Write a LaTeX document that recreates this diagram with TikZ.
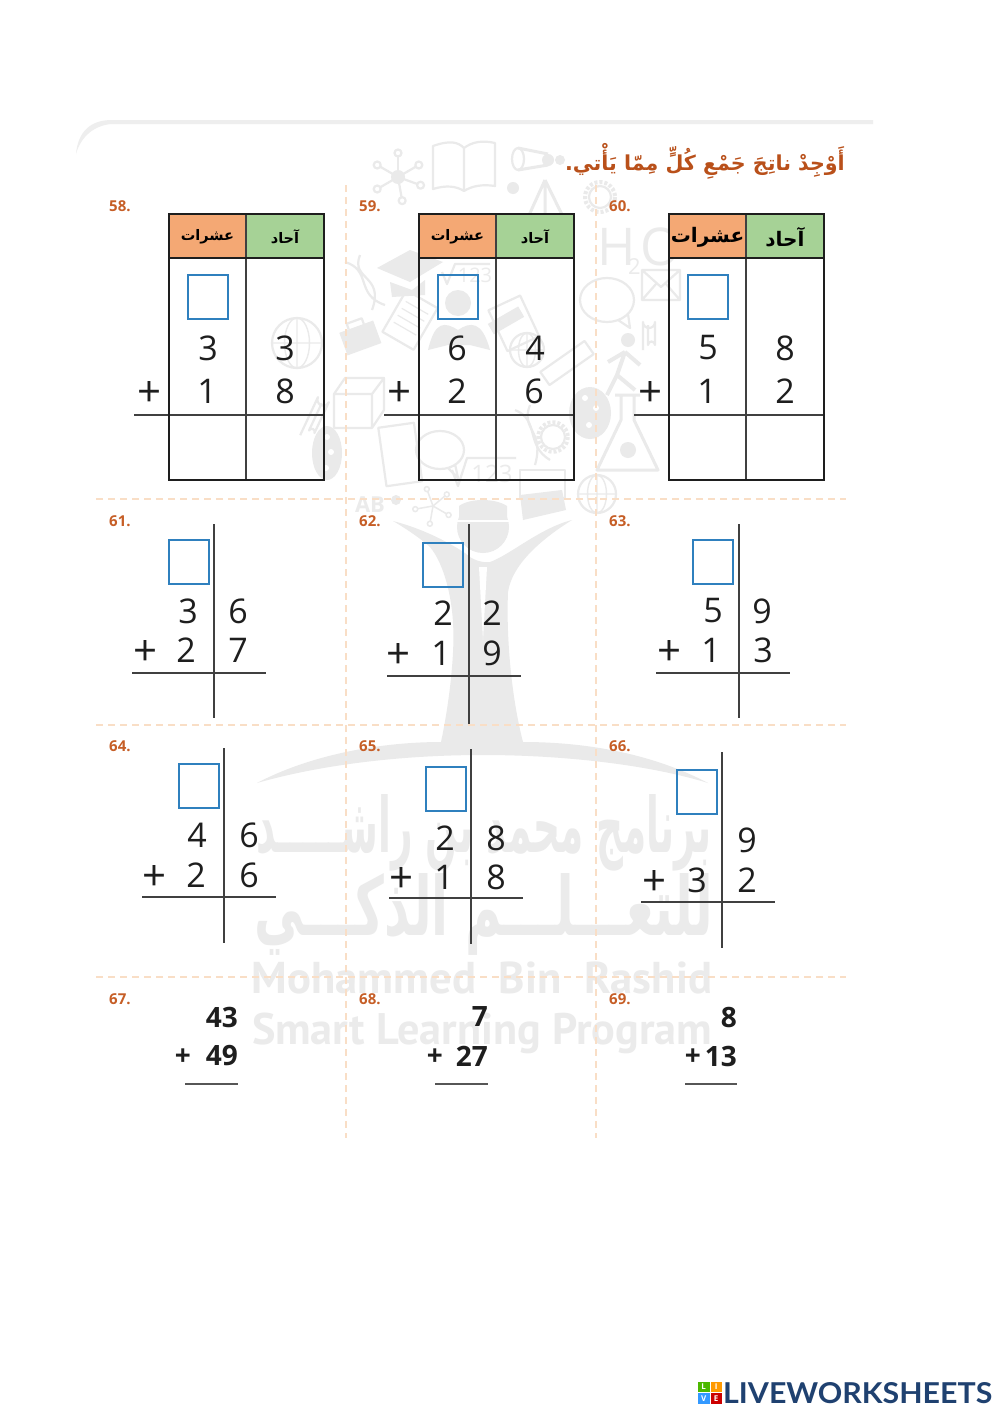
\documentclass[tikz,border=0pt]{standalone}
\usepackage{fontspec}
\usepackage{graphicx}
\setmainfont{Open Sans}
\newfontfamily\arfont[Script=Arabic]{DejaVu Sans}
\newfontfamily\latofont{Lato}
\newfontfamily\wmfont{PT Sans}
\TeXXeTstate=1
\usetikzlibrary{shapes.geometric}
\definecolor{wm}{HTML}{EAEAEA}
\definecolor{wmtext}{HTML}{EBEBEB}
\definecolor{dashc}{HTML}{F9DEC6}
\definecolor{numc}{HTML}{C65E26}
\definecolor{headc}{HTML}{B9501A}
\definecolor{orhead}{HTML}{F4A874}
\definecolor{grhead}{HTML}{A6D296}
\definecolor{boxc}{HTML}{2F80BE}
\definecolor{inkc}{HTML}{1E1E1E}
\definecolor{navy}{HTML}{1F4170}
\newcounter{nn}
\tikzset{
  x=1pt,y=-1pt,
  dig/.style={inner sep=0pt,text=inkc,font=\fontsize{34}{34}\selectfont},
  plusdig/.style={inner sep=0pt,text=inkc,font=\fontsize{42}{42}\selectfont},
  bolddig/.style={inner sep=0pt,anchor=east,text=inkc,font=\fontsize{28}{28}\selectfont\bfseries},
  numlab/.style={inner sep=0pt,anchor=west,text=numc,font=\fontsize{15}{15}\selectfont\bfseries},
  thick line/.style={draw=inkc,line width=2.8pt},
  thin line/.style={draw=inkc!85,line width=1.6pt},
  answerbox/.style={draw=boxc,line width=2pt,fill=none},
  wmline/.style={draw=wm,line width=2.2pt,line join=round,fill=none},
  fold/.style={draw=dashc,line width=1.3pt,dash pattern=on 7pt off 5pt},
}
\newcommand{\dgt}[3]{\stepcounter{nn}\node[dig] (n\thenn) at (#1,#2) {#3};}
\newcommand{\pls}[2]{\stepcounter{nn}\node[plusdig] (n\thenn) at (#1,#2+3) {+};}
\newcommand{\blab}[3]{\stepcounter{nn}\node[numlab] (n\thenn) at (#1,#2) {#3};}
\newcommand{\bdgt}[3]{\stepcounter{nn}\node[bolddig] (n\thenn) at (#1,#2) {#3};}
\newcommand{\sqbox}[2]{\draw[answerbox] (#1,#2) rectangle ++(40,44);}
\newcommand{\ctable}[2]{%
  \fill[orhead] (#1,214) rectangle ++(77,44);
  \fill[grhead] (#1+77,214) rectangle ++(78,44);
  \draw[thin line] (#1+77,214) -- (#1+77,480);
  \draw[thin line] (#1+77-112,415) -- (#1+155,415);
  \draw[thick line] (#1,258) -- (#1+155,258);
  \draw[thick line] (#1,214) rectangle (#1+155,480);
  \stepcounter{nn}\node[inner sep=0pt,text=black,font=\arfont\fontsize{#2}{#2}\selectfont\bfseries] (n\thenn) at (#1+38.5,237) {\beginR عشرات\endR};
  \stepcounter{nn}\node[inner sep=0pt,text=black,font=\arfont\fontsize{#2}{#2}\selectfont\bfseries] (n\thenn) at (#1+116,237) {\beginR آحاد\endR};
}
\newcommand{\vprob}[5]{%
  \draw[thin line] (#1,#2) -- (#1,#3);
  \draw[thin line] (#4,#5) -- (#4+134,#5);
}
\begin{document}
\begin{tikzpicture}
\useasboundingbox (0,0) rectangle (1000,1413);
\fill[white] (0,0) rectangle (1000,1413);

% ---------- top tab
\fill[wm!80] (873,120) -- (112,120) .. controls (90,120) and (78,132) .. (76,154) .. controls (81,136) and (95,125) .. (112,124) -- (873,124) -- cycle;

% ---------- watermark doodles
\draw[wmline] (433,146) .. controls (450,140) and (458,142) .. (464,148) .. controls (472,142) and (482,140) .. (495,143) -- (495,186) .. controls (482,184) and (472,186) .. (464,191) .. controls (456,186) and (446,185) .. (433,189) -- cycle (464,148) -- (464,191);
\foreach \a in {20,80,150,210,270,330}{\draw[wmline] (398,177) -- ++(\a:21); \draw[wmline] (398,177) ++(\a:24) circle (3.5);}
\fill[wm] (398,177) circle (7);
\draw[wmline,line width=3pt] (518,148) -- (548,154) (518,170) -- (548,165);
\draw[wmline] (518,159) ellipse (6 and 11);
\fill[wm] (548,160) circle (6);\fill[wm] (560,160) circle (5);
\draw[wmline,line width=3pt] (545,180) -- (520,235) (545,180) -- (572,235) (545,180) -- (545,215);
\fill[wm] (513,188) circle (6);
\draw[wmline,dash pattern=on 3pt off 2pt,line width=4pt] (600,197) circle (15);
\draw[wmline] (600,197) circle (11);
\node[inner sep=0pt,text=wmtext,anchor=west,font=\fontsize{52}{52}\selectfont] (h) at (597,247) {H};
\node[inner sep=0pt,text=wmtext,anchor=west,font=\fontsize{22}{22}\selectfont] (two) at (628,267) {2};
\node[inner sep=0pt,text=wmtext,anchor=west,font=\fontsize{52}{52}\selectfont] (o) at (640,247) {O};
\draw[wmline] (642,270) rectangle (680,300) (642,270) -- (661,287) -- (680,270) (642,300) -- (656,284) (680,300) -- (666,284);
\draw[wmline] (607,300) ellipse (27 and 22) (618,320) -- (630,328) -- (628,314);
\draw[wmline] (440,450) ellipse (24 and 19) (448,468) -- (458,478) -- (455,464);
\draw[wmline] (643,350) -- (643,322) arc (180:0:6) -- (655,345) arc (0:-180:3.5) -- (648,325);
\fill[wm] (377,268) -- (410,250) -- (443,262) -- (410,282) -- cycle;
\fill[wm] (390,282) -- (412,290) -- (425,280) -- (425,295) -- (392,297) -- cycle;
\fill[wm] (500,224) -- (522,230) -- (510,258) -- cycle;
\fill[wm] (496,215) -- (525,214) -- (545,250) -- (522,258) -- cycle;
\node[inner sep=0pt,text=wmtext,font=\fontsize{20}{20}\selectfont] (roota) at (475,275) {123};
\draw[wmline] (442,272) -- (447,284) -- (455,264) -- (490,264);
\fill[wm] (458,303) circle (13);
\fill[wm] (428,350) .. controls (435,320) and (445,322) .. (458,330) .. controls (470,322) and (482,320) .. (490,350) -- (470,345) -- (448,345) -- cycle;
\foreach \cx/\cy/\r in {527/350/17,297/343/25,597/494/19}{
  \draw[wmline] (\cx,\cy) circle (\r);
  \draw[wmline,line width=1.4pt] (\cx-\r,\cy) -- (\cx+\r,\cy) (\cx,\cy-\r) -- (\cx,\cy+\r) (\cx,\cy) ellipse ({\r/2} and \r);
}
\draw[wmline] (345,262) .. controls (372,270) and (355,295) .. (385,305) (360,255) .. controls (350,280) and (385,275) .. (372,310);
\draw[wmline,rotate around={-30:(410,320)}] (392,296) rectangle (428,344);
\foreach \k in {0,1,2,3}{\draw[wmline,line width=1.2pt,rotate around={-30:(410,320)}] (397,306+8*\k) -- (423,306+8*\k);}
\fill[wm,rotate around={20:(360,337)}] (342,326) rectangle (378,350);
\draw[wmline,rotate around={20:(360,337)}] (352,326) -- (352,320) -- (368,320) -- (368,326);
\draw[wmline,rotate around={25:(515,320)}] (495,300) rectangle (530,345);
\fill[wm,rotate around={30:(500,325)}] (490,318) rectangle (525,330);
\draw[wmline] (334,394) -- (372,394) -- (372,428) -- (334,428) -- cycle (334,394) -- (345,378) -- (384,378) -- (372,394) (384,378) -- (384,410) -- (372,428);
\fill[wm] (327,453) ellipse (15 and 27);
\fill[white] (327,437) circle (3);\fill[white] (331,452) circle (3);\fill[white] (326,468) circle (3);
\fill[wm] (590,413) ellipse (21 and 26);
\fill[white] (585,398) circle (3);\fill[white] (596,408) circle (3);\fill[white] (589,425) circle (3);
\draw[wmline,rotate around={8:(400,453)}] (382,425) rectangle (418,484);
\node[inner sep=0pt,text=wmtext,font=\fontsize{24}{24}\selectfont] (rootb) at (492,474) {123};
\draw[wmline] (452,470) -- (458,486) -- (467,458) -- (516,458);
\draw[wmline] (553,437) circle (12);
\draw[wmline,dash pattern=on 3pt off 2pt,line width=3.5pt] (553,437) circle (15);
\draw[wmline,line width=3pt] (615,395) -- (640,395) (621,395) -- (621,420) -- (597,470) -- (658,470) -- (634,420) -- (634,395);
\fill[wm] (628,450) circle (8);
\fill[wm] (628,340) circle (7);
\draw[wmline,line width=4pt] (625,352) -- (617,375) -- (607,395) (617,375) -- (635,390) (625,352) -- (640,365) (625,352) -- (608,362);
\draw[wmline,rotate around={35:(567,363)}] (540,355) rectangle (594,371);
\draw[wmline,rotate around={-25:(315,420)}] (308,440) -- (308,398) arc (180:0:6) -- (320,432) arc (0:-180:3) -- (314,402);
\draw[wmline] (515,410) .. controls (540,420) and (525,445) .. (550,460);
\draw[wmline] (530,405) .. controls (520,430) and (545,430) .. (535,465);
\draw[wmline] (520,470) rectangle (565,498);
\fill[wm] (396,500) circle (5);
\foreach \a in {30,100,170,250,320}{\draw[wmline,line width=1.5pt] (433,506) -- ++(\a:16); \draw[wmline,line width=1.5pt] (433,506) ++(\a:18) circle (2.5);}
\fill[wm] (520,495) -- (562,490) -- (566,510) -- (523,520) -- cycle;
\node[inner sep=0pt,text=wmtext,font=\fontsize{22}{22}\selectfont\bfseries] (ab) at (370,505) {AB};

% ---------- tree
\fill[wm] (483,527) circle (26);
\fill[wm] (459,506) .. controls (470,498) and (495,498) .. (507,506) -- (507,518) -- (459,518) -- cycle;
\fill[white] (456,520) rectangle (510,522);
\fill[wm] (393,521) .. controls (420,528) and (445,540) .. (465,553) .. controls (472,560) and (482,563) .. (490,562)
  .. controls (510,555) and (540,528) .. (572,520)
  .. controls (540,540) and (512,565) .. (508,592)
  .. controls (506,640) and (512,700) .. (523,742)
  .. controls (590,742) and (655,755) .. (708,783) .. controls (650,765) and (565,755) .. (483,755)
  .. controls (400,755) and (320,765) .. (257,783) .. controls (310,755) and (380,742) .. (441,742)
  .. controls (450,700) and (455,650) .. (453,623) .. controls (452,600) and (445,565) .. (430,547)
  .. controls (420,538) and (405,528) .. (393,521) -- cycle;
\fill[white] (479,567) -- (487,567) -- (483,640) -- cycle;

% ---------- watermark text
\node[inner sep=0pt,text=wmtext] (wa) at (484,833) {\resizebox{456pt}{58pt}{\arfont\bfseries\beginR برنامج محمد بن راشـــــد\endR}};
\node[inner sep=0pt,text=wmtext] (wb) at (484,914) {\resizebox{458pt}{62pt}{\arfont\bfseries\beginR للتعـــلـــم الذكـــي\endR}};
\node[inner sep=0pt,text=wmtext] (wc) at (482,978) {\resizebox{460pt}{!}{\wmfont\fontsize{40}{40}\selectfont\bfseries Mohammed\ \ Bin\ \ Rashid}};
\node[inner sep=0pt,text=wmtext] (wd) at (482,1033) {\resizebox{460pt}{!}{\wmfont\fontsize{40}{40}\selectfont\bfseries Smart Learning Program}};

% ---------- fold lines
\foreach \yy in {499,725,977}{\draw[fold] (96,\yy) -- (846,\yy);}
\foreach \xx in {346,596}{\draw[fold] (\xx,185) -- (\xx,1138);}

% ---------- heading
\node[inner sep=0pt,anchor=east,text=headc,font=\arfont\fontsize{20.6}{20.6}\selectfont\bfseries] (title) at (845,161) {\beginR أَوْجِدْ ناتِجَ جَمْعِ كُلٍّ مِمّا يَأْتي.\endR};

% ---------- tables
\blab{109}{206}{58.}\blab{359}{206}{59.}\blab{609}{206}{60.}
\ctable{169}{14.5}
\ctable{419}{14.5}
\ctable{669}{20}
\sqbox{188}{275}\sqbox{438}{275}\sqbox{688}{275}
\dgt{208}{348}{3}\dgt{285}{348}{3}\pls{150}{391}\dgt{207}{391}{1}\dgt{285}{391}{8}
\dgt{457}{348}{6}\dgt{535}{348}{4}\pls{400}{391}\dgt{457}{391}{2}\dgt{534}{391}{6}
\dgt{708}{348}{5}\dgt{785}{348}{8}\pls{650}{391}\dgt{707}{391}{1}\dgt{785}{391}{2}

% ---------- vertical problems
\blab{109}{521}{61.}\blab{359}{521}{62.}\blab{609}{521}{63.}
\vprob{214}{524}{718}{132}{673}
\sqbox{169}{540}
\dgt{188}{611}{3}\dgt{238}{611}{6}\pls{146}{650}\dgt{186}{650}{2}\dgt{238}{650}{7}
\vprob{469}{524}{724}{387}{676}
\sqbox{423}{543}
\dgt{443}{613}{2}\dgt{492}{613}{2}\pls{399}{653}\dgt{441}{653}{1}\dgt{492}{653}{9}
\vprob{739}{524}{718}{656}{673}
\sqbox{693}{540}
\dgt{713}{611}{5}\dgt{762}{611}{9}\pls{669}{650}\dgt{711}{650}{1}\dgt{763}{650}{3}

\blab{109}{746}{64.}\blab{359}{746}{65.}\blab{609}{746}{66.}
\vprob{224}{748}{943}{142}{897}
\sqbox{179}{764}
\dgt{197}{835}{4}\dgt{249}{835}{6}\pls{155}{875}\dgt{196}{875}{2}\dgt{249}{875}{6}
\vprob{471}{749}{944}{389}{898}
\sqbox{426}{767}
\dgt{445}{838}{2}\dgt{496}{838}{8}\pls{402}{877}\dgt{444}{877}{1}\dgt{496}{877}{8}
\vprob{722}{752}{948}{641}{902}
\sqbox{677}{770}
\dgt{747}{840}{9}\pls{654}{880}\dgt{697}{880}{3}\dgt{747}{880}{2}

% ---------- plain problems
\blab{109}{999}{67.}\blab{359}{999}{68.}\blab{609}{999}{69.}
\bdgt{238}{1017}{43}\bdgt{238}{1056}{49}\bdgt{191}{1057}{+}
\bdgt{488}{1017}{7}\bdgt{488}{1056}{27}\bdgt{443}{1057}{+}
\bdgt{737}{1017}{8}\bdgt{737}{1056}{13}\bdgt{701}{1057}{+}
\draw[thin line,draw=inkc!75] (185,1084) -- (238,1084);
\draw[thin line,draw=inkc!75] (435,1084) -- (488,1084);
\draw[thin line,draw=inkc!75] (685,1084) -- (737,1084);

% ---------- logo
\fill[green!60!black!70!yellow] (698,1382) rectangle (709.5,1392);
\fill[orange!80!yellow] (710.5,1382) rectangle (722,1392);
\fill[blue!50!cyan!80] (698,1393) rectangle (709.5,1403.5);
\fill[red!80!black] (710.5,1393) rectangle (722,1403.5);
\node[inner sep=0pt,text=white,font=\fontsize{8}{8}\selectfont\bfseries] (ll) at (703.7,1387) {L};
\node[inner sep=0pt,text=white,font=\fontsize{8}{8}\selectfont\bfseries] (li) at (716.2,1387) {I};
\node[inner sep=0pt,text=white,font=\fontsize{8}{8}\selectfont\bfseries] (lv) at (703.7,1398.3) {V};
\node[inner sep=0pt,text=white,font=\fontsize{8}{8}\selectfont\bfseries] (le) at (716.2,1398.3) {E};
\node[inner sep=0pt,anchor=west,text=navy] (logo) at (723,1393) {\resizebox{269pt}{21pt}{\latofont\bfseries LIVEWORKSHEETS}};
\end{tikzpicture}
\end{document}
